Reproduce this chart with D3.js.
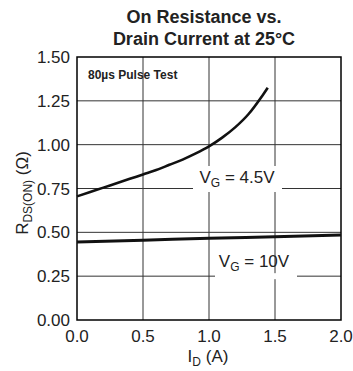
<!DOCTYPE html>
<html>
<head>
<meta charset="utf-8">
<script src="https://cdn.jsdelivr.net/npm/d3@7"></script>
<style>
  body { margin: 0; background: #fff; }
  svg { font-family: "Liberation Sans", Arial, sans-serif; }
</style>
</head>
<body>
<div id="chart"></div>
<script>
// Chart values
const xTicks = [0, 0.5, 1.0, 1.5, 2.0];
const yTicks = [0, 0.25, 0.5, 0.75, 1.0, 1.25, 1.5];

// V_G = 4.5V curve
const id45 = [0, 0.1, 0.2, 0.3, 0.4, 0.5, 0.6, 0.7, 0.8, 0.9, 1.0, 1.1, 1.2, 1.3, 1.4, 1.445];
const r45 = [0.705, 0.73, 0.755, 0.78, 0.805, 0.83, 0.855, 0.885, 0.915, 0.95, 0.99, 1.04, 1.1, 1.175, 1.275, 1.325];

// V_G = 10V curve
const id10 = [0, 0.5, 1.0, 1.5, 2.0];
const r10 = [0.445, 0.455, 0.466, 0.475, 0.485];

const width = 353, height = 371;
const margin = { left: 77, right: 12, top: 57, bottom: 51 };

const svg = d3.select("#chart").append("svg")
    .attr("width", width)
    .attr("height", height);

const x = d3.scaleLinear().domain([0, 2]).range([margin.left, width - margin.right]);
const y = d3.scaleLinear().domain([0, 1.5]).range([height - margin.bottom, margin.top]);

// grid lines
const grid = svg.append("g").attr("stroke", "#333").attr("stroke-width", 1);
grid.selectAll("line.v")
    .data(xTicks.slice(1, -1))
    .enter().append("line")
    .attr("x1", d => x(d)).attr("x2", d => x(d))
    .attr("y1", y(0)).attr("y2", y(1.5));
grid.selectAll("line.h")
    .data(yTicks.slice(1, -1))
    .enter().append("line")
    .attr("x1", x(0)).attr("x2", x(2))
    .attr("y1", d => y(d)).attr("y2", d => y(d));

// white boxes behind the curve labels break the grid
svg.append("rect")
    .attr("x", 193).attr("y", 166).attr("width", 89).attr("height", 26)
    .attr("fill", "#fff");
svg.append("rect")
    .attr("x", 215).attr("y", y(0.25) - 3).attr("width", 82).attr("height", 6)
    .attr("fill", "#fff");

// frame
svg.append("rect")
    .attr("x", x(0)).attr("y", y(1.5))
    .attr("width", x(2) - x(0)).attr("height", y(0) - y(1.5))
    .attr("fill", "none").attr("stroke", "#000").attr("stroke-width", 1.5);

// curves
const line = d3.line()
    .x(d => x(d[0]))
    .y(d => y(d[1]))
    .curve(d3.curveMonotoneX);

svg.append("path")
    .attr("d", line(d3.zip(id10, r10)))
    .attr("fill", "none").attr("stroke", "#111").attr("stroke-width", 3);

svg.append("path")
    .attr("d", line(d3.zip(id45, r45)))
    .attr("fill", "none").attr("stroke", "#111").attr("stroke-width", 2.6);

// tick labels
svg.append("g").selectAll("text")
    .data(yTicks)
    .enter().append("text")
    .attr("x", x(0) - 7)
    .attr("y", d => y(d) + 6)
    .attr("text-anchor", "end")
    .style("font-size", "17px")
    .attr("fill", "#222")
    .text(d => d3.format(".2f")(d));

svg.append("g").selectAll("text")
    .data(xTicks)
    .enter().append("text")
    .attr("x", d => x(d))
    .attr("y", 342)
    .attr("text-anchor", "middle")
    .style("font-size", "17px")
    .attr("fill", "#222")
    .text(d => d3.format(".1f")(d));

// title
const title = svg.append("text")
    .attr("text-anchor", "middle")
    .style("font-size", "18px")
    .style("font-weight", "bold")
    .attr("fill", "#222");
title.append("tspan").attr("x", 204).attr("y", 23).text("On Resistance vs.");
title.append("tspan").attr("x", 204).attr("y", 45).text("Drain Current at 25°C");

// note
svg.append("text")
    .attr("x", 88).attr("y", 79)
    .style("font-size", "12px")
    .style("font-weight", "bold")
    .attr("fill", "#222")
    .text("80µs Pulse Test");

// curve labels
function vgLabel(cx, by, value) {
    const t = svg.append("text")
        .attr("x", cx).attr("y", by)
        .attr("text-anchor", "middle")
        .style("font-size", "17px")
        .attr("fill", "#222");
    t.append("tspan").text("V");
    t.append("tspan").attr("dy", 4).style("font-size", "12px").text("G");
    t.append("tspan").attr("dy", -4).text(" = " + value);
}
vgLabel(237, 183, "4.5V");
vgLabel(254, 267, "10V");

// x axis label
const xl = svg.append("text")
    .attr("x", 208).attr("y", 362)
    .attr("text-anchor", "middle")
    .style("font-size", "17px")
    .attr("fill", "#222");
xl.append("tspan").text("I");
xl.append("tspan").attr("dy", 4).style("font-size", "12px").text("D");
xl.append("tspan").attr("dy", -4).text(" (A)");

// y axis label
const yl = svg.append("text")
    .attr("transform", "translate(28,193) rotate(-90)")
    .attr("text-anchor", "middle")
    .style("font-size", "17px")
    .attr("fill", "#222");
yl.append("tspan").text("R");
yl.append("tspan").attr("dy", 4).style("font-size", "12px").text("DS(ON)");
yl.append("tspan").attr("dy", -4).text(" (Ω)");
</script>
</body>
</html>
